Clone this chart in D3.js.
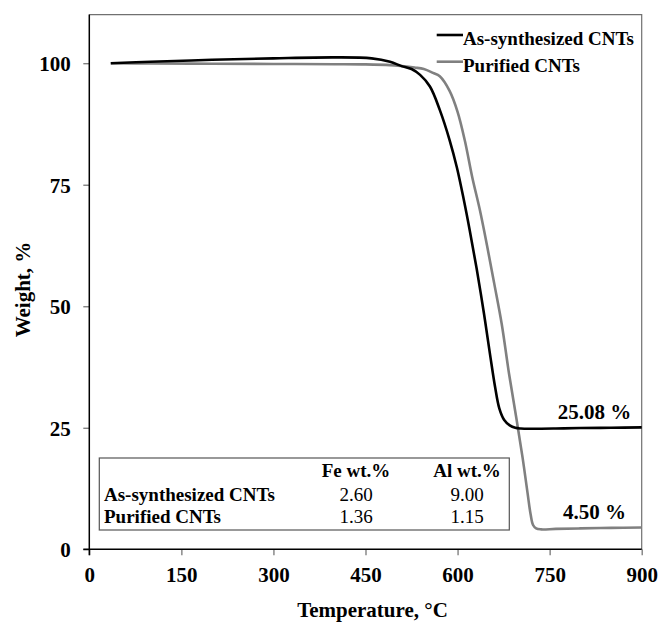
<!DOCTYPE html>
<html>
<head>
<meta charset="utf-8">
<script src="https://cdn.jsdelivr.net/npm/d3@7"></script>
<style>
  body { margin: 0; background: #fff; }
  svg { display: block; }
  svg text { font-family: "Liberation Serif", "Times New Roman", serif !important; }
</style>
</head>
<body>
<svg id="chart" width="661" height="624"></svg>
<script>
// TGA curves: temperature (°C) and remaining weight (%)
const asSynthTemp   = [35, 100, 200, 300, 400, 460, 490, 509, 525, 539, 555, 571, 587, 599, 610, 620, 631, 643, 653, 661, 668, 676, 685, 694, 703, 720, 760, 800, 850, 900];
const asSynthWeight = [100.0, 100.3, 100.7, 101.0, 101.2, 101.0, 100.3, 99.4, 98.8, 97.6, 95.2, 90.4, 84.2, 78.5, 72.0, 65.5, 57.8, 48.5, 40.0, 33.5, 29.0, 26.6, 25.5, 25.0, 24.85, 24.8, 24.85, 24.95, 25.0, 25.08];

const purifiedTemp   = [35, 100, 200, 300, 400, 450, 490, 509, 530, 545, 560, 571, 587, 600, 612, 624, 636, 648, 660, 672, 684, 696, 706, 714, 719, 723, 728, 736, 760, 800, 850, 900];
const purifiedWeight = [100.0, 99.95, 99.9, 99.85, 99.8, 99.75, 99.6, 99.4, 99.1, 98.8, 98.0, 97.3, 94.3, 90.0, 84.0, 76.5, 70.0, 62.5, 54.5, 46.3, 36.0, 26.8, 18.8, 11.6, 7.2, 5.0, 4.3, 4.1, 4.2, 4.3, 4.4, 4.5];

const seriesNames  = ["As-synthesized CNTs", "Purified CNTs"];
const seriesColors = ["#000000", "#808080"];

const xTicks = [0, 150, 300, 450, 600, 750, 900];
const yTicks = [0, 25, 50, 75, 100];

// residue at 900 °C
const residueLabels = ["25.08 %", "4.50 %"];
const residueValues = [25.08, 4.50];

// inset table of metal content
const tableColumns = ["Fe wt.%", "Al wt.%"];
const feContent = ["2.60", "1.36"];
const alContent = ["9.00", "1.15"];

const svg = d3.select("#chart");

const x = d3.scaleLinear().domain([0, 900]).range([89.3, 641.7]);
const y = d3.scaleLinear().domain([0, 110]).range([549.3, 14.6]);

const plotLeft = x(0), plotRight = x(900), plotTop = y(110), plotBottom = y(0);

// plot-area frame (top and right)
svg.append("path")
  .attr("d", `M${plotLeft},${plotTop}H${plotRight}V${plotBottom}`)
  .attr("fill", "none").attr("stroke", "#707070").attr("stroke-width", 1.2);

// axes
const xAxis = d3.axisBottom(x).tickValues(xTicks).tickSize(6).tickSizeOuter(0).tickPadding(12);
const yAxis = d3.axisLeft(y).tickValues(yTicks).tickSize(6).tickSizeOuter(0).tickPadding(12);

const gx = svg.append("g").attr("transform", `translate(0,${plotBottom})`).call(xAxis);
const gy = svg.append("g").attr("transform", `translate(${plotLeft},0)`).call(yAxis);

[gx, gy].forEach(g => {
  g.attr("font-family", null);
  g.select(".domain").remove();
  g.selectAll(".tick line").attr("stroke", "#777").attr("stroke-width", 1.3);
  g.selectAll(".tick text")
    .attr("fill", "#000")
    .attr("font-size", 21)
    .attr("font-weight", "bold");
});
gx.selectAll(".tick text").attr("dy", null).attr("y", 33);
gy.selectAll(".tick text").attr("x", -18.5).attr("dy", "0.35em");

// axis lines
svg.append("line")
  .attr("x1", plotLeft - 6).attr("x2", plotRight)
  .attr("y1", plotBottom).attr("y2", plotBottom)
  .attr("stroke", "#000").attr("stroke-width", 1.5);
svg.append("line")
  .attr("x1", plotLeft).attr("x2", plotLeft)
  .attr("y1", plotTop).attr("y2", plotBottom + 6)
  .attr("stroke", "#000").attr("stroke-width", 1.5);

// axis titles
svg.append("text")
  .attr("x", 372.5).attr("y", 617)
  .attr("text-anchor", "middle")
  .attr("font-size", 21).attr("font-weight", "bold")
  .text("Temperature, °C");
svg.append("text")
  .attr("transform", "translate(30,289.5) rotate(-90)")
  .attr("text-anchor", "middle")
  .attr("font-size", 21).attr("font-weight", "bold")
  .text("Weight, %");

// curves
const line = d3.line()
  .x(d => x(d[0]))
  .y(d => y(d[1]))
  .curve(d3.curveCatmullRom.alpha(0.5));

const series = [
  d3.zip(asSynthTemp, asSynthWeight),
  d3.zip(purifiedTemp, purifiedWeight)
];

// purified curve underneath, as-synthesized on top
[1, 0].forEach(i => {
  svg.append("path")
    .datum(series[i])
    .attr("d", line)
    .attr("fill", "none")
    .attr("stroke", seriesColors[i])
    .attr("stroke-width", 2.6)
    .attr("stroke-linejoin", "round");
});

// legend
const legend = svg.append("g");
seriesNames.forEach((name, i) => {
  const ly = 35 + i * 26.7;
  legend.append("line")
    .attr("x1", 436.7).attr("x2", 463).attr("y1", ly).attr("y2", ly)
    .attr("stroke", seriesColors[i]).attr("stroke-width", 2.6);
  legend.append("text")
    .attr("x", 463).attr("y", ly + 10)
    .attr("font-size", 19).attr("font-weight", "bold")
    .text(name);
});

// residue labels at the end of each curve
residueLabels.forEach((label, i) => {
  svg.append("text")
    .attr("x", 594.5).attr("y", y(residueValues[i]) - 8)
    .attr("text-anchor", "middle")
    .attr("font-size", 21).attr("font-weight", "bold")
    .text(label);
});

// inset table
const table = svg.append("g");
table.append("rect")
  .attr("x", 99.3).attr("y", 458).attr("width", 410).attr("height", 72)
  .attr("fill", "#fff").attr("stroke", "#555").attr("stroke-width", 1.2);

const colCenters = [356, 467];
const rowBaselines = [476.5, 500.5, 523];
tableColumns.forEach((c, j) => {
  table.append("text")
    .attr("x", colCenters[j]).attr("y", rowBaselines[0])
    .attr("text-anchor", "middle")
    .attr("font-size", 19).attr("font-weight", "bold")
    .text(c);
});
seriesNames.forEach((name, i) => {
  table.append("text")
    .attr("x", 104).attr("y", rowBaselines[i + 1])
    .attr("font-size", 19).attr("font-weight", "bold")
    .text(name);
  [feContent[i], alContent[i]].forEach((v, j) => {
    table.append("text")
      .attr("x", colCenters[j]).attr("y", rowBaselines[i + 1])
      .attr("text-anchor", "middle")
      .attr("font-size", 19)
      .text(v);
  });
});
</script>
</body>
</html>
